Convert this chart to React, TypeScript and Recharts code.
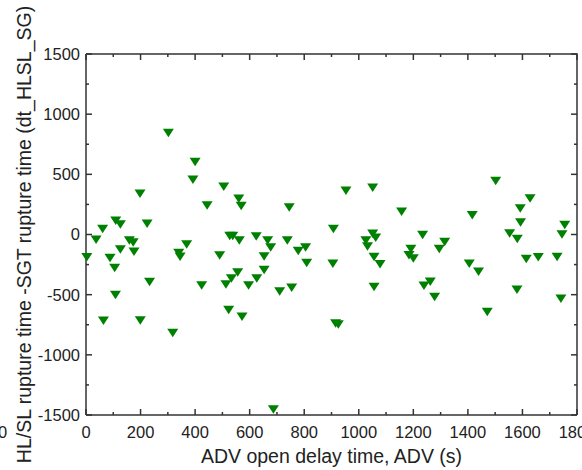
import React from 'react';
import { ScatterChart, Scatter, XAxis, YAxis } from 'recharts';

// ADV open delay time (s)
const advTime = [
  302, 400, 392, 198, 505, 560, 569, 444, 109, 126, 61, 224, 37, 3, 88, 105, 126, 159, 173, 176,
  369, 340, 345, 490, 527, 538, 562, 233, 108, 424, 556, 533, 513, 596, 64, 199, 318, 523, 572, 687,
  953, 1051, 745, 1157, 907, 624, 666, 677, 738, 778, 805, 809, 653, 1026, 1051, 1062, 1032, 1056, 1078, 905,
  653, 626, 710, 754, 1056, 915, 925, 1502, 1628, 1592, 1416, 1593, 1755, 1745, 1553, 1581, 1234, 1315, 1295, 1191,
  1184, 1200, 1614, 1658, 1727, 1405, 1439, 1262, 1239, 1278, 1580, 1741, 1471,
];

// HL/SL rupture time - SGT rupture time
const ruptureDiff = [
  845, 604, 457, 340, 399, 299, 238, 243, 116, 86, 47, 91, -42, -188, -194, -277, -122, -47, -64, -141,
  -80, -152, -183, -172, -11, -11, -47, -393, -501, -421, -313, -363, -413, -421, -714, -712, -817, -626, -681, -1453,
  365, 390, 227, 191, 47, -14, -47, -105, -47, -135, -105, -235, -180, -47, 8, -25, -97, -185, -246, -241,
  -293, -363, -471, -440, -434, -737, -745, 446, 302, 219, 163, 102, 80, 3, 11, -36, -2, -61, -119, -119,
  -170, -197, -202, -188, -185, -241, -307, -390, -424, -518, -457, -532, -642,
];

const xDomain = [0, 1800];
const yDomain = [-1500, 1500];
const xTicks = [0, 100, 200, 300, 400, 500, 600, 700, 800, 900, 1000, 1100, 1200, 1300, 1400, 1500, 1600, 1700, 1800];
const yTicks = [-1500, -1250, -1000, -750, -500, -250, 0, 250, 500, 750, 1000, 1250, 1500];

const points = advTime.map((x, i) => ({ x, y: ruptureDiff[i] }));

// top and right sides of the box (Origin style frame)
const frame = [
  { x: xDomain[0], y: yDomain[1] },
  { x: xDomain[1], y: yDomain[1] },
  { x: xDomain[1], y: yDomain[0] },
];
const topTicks = xTicks.map((v) => ({ x: v, y: yDomain[1] }));
const rightTicks = yTicks.map((v) => ({ x: xDomain[1], y: v }));

const FONT = '"Liberation Sans", Arial, sans-serif';
const AXIS = '#333';
const TXT = '#222';

const BottomTick = (props: any) => {
  const { x, y, payload } = props;
  const major = payload.value % 200 === 0;
  return (
    <g>
      <line x1={x} y1={y} x2={x} y2={y - (major ? 6 : 3)} stroke={AXIS} strokeWidth={1.5} />
      {major && (
        <text x={x} y={y + 23} textAnchor="middle" fontSize={16.5} fontFamily={FONT} fill={TXT}>
          {payload.value}
        </text>
      )}
    </g>
  );
};

const LeftTick = (props: any) => {
  const { x, y, payload } = props;
  const major = payload.value % 500 === 0;
  return (
    <g>
      <line x1={x} y1={y} x2={x + (major ? 6 : 3)} y2={y} stroke={AXIS} strokeWidth={1.5} />
      {major && (
        <text x={x - 6} y={y} dy="0.36em" textAnchor="end" fontSize={16.5} fontFamily={FONT} fill={TXT}>
          {payload.value}
        </text>
      )}
    </g>
  );
};

const TopTickMark = (props: any) => {
  const { cx, cy, payload } = props;
  const len = payload.x % 200 === 0 ? 6 : 3;
  return <line x1={cx} y1={cy} x2={cx} y2={cy + len} stroke={AXIS} strokeWidth={1.5} />;
};

const RightTickMark = (props: any) => {
  const { cx, cy, payload } = props;
  const len = payload.y % 500 === 0 ? 6 : 3;
  return <line x1={cx} y1={cy} x2={cx - len} y2={cy} stroke={AXIS} strokeWidth={1.5} />;
};

const NoMarker = () => <g />;

const DownTriangle = (props: any) => {
  const { cx, cy } = props;
  return (
    <polygon
      points={`${cx - 5.5},${cy - 4} ${cx + 5.5},${cy - 4} ${cx},${cy + 4.5}`}
      fill="#008000"
    />
  );
};

const XTitle = (props: any) => {
  const { viewBox } = props;
  return (
    <text x={viewBox.x + viewBox.width / 2} y={viewBox.y + 48} textAnchor="middle" fontSize={19.5} fontFamily={FONT} fill={TXT}>
      ADV open delay time, ADV (s)
    </text>
  );
};

const YTitle = (props: any) => {
  const { viewBox } = props;
  const cx = 31;
  const cy = viewBox.y + viewBox.height / 2;
  return (
    <g>
      <text x={cx} y={cy} transform={`rotate(-90, ${cx}, ${cy})`} textAnchor="middle" fontSize={19.5} fontFamily={FONT} fill={TXT}>
        HL/SL rupture time -SGT rupture time (dt_HLSL_SG)
      </text>
      {/* stray tick label left over from the neighbouring panel */}
      <text x={-2} y={viewBox.y + viewBox.height + 23} fontSize={16.5} fontFamily={FONT} fill={TXT}>
        0
      </text>
    </g>
  );
};

const App = () => {
  return (
    <div style={{ position: 'absolute', left: 0, top: 0 }}>
      <ScatterChart width={582} height={470} margin={{ top: 54, right: 5, bottom: 0, left: 0 }}>
        <XAxis
          xAxisId="b"
          type="number"
          dataKey="x"
          domain={xDomain}
          ticks={xTicks}
          interval={0}
          height={55}
          tickSize={0}
          tickMargin={0}
          tickLine={false}
          tick={<BottomTick />}
          axisLine={{ stroke: AXIS, strokeWidth: 1.5 }}
          label={<XTitle />}
        />
        <YAxis
          yAxisId="l"
          type="number"
          dataKey="y"
          domain={yDomain}
          ticks={yTicks}
          interval={0}
          width={86}
          tickSize={0}
          tickMargin={0}
          tickLine={false}
          tick={<LeftTick />}
          axisLine={{ stroke: AXIS, strokeWidth: 1.5 }}
          label={<YTitle />}
        />
        <Scatter
          xAxisId="b"
          yAxisId="l"
          data={frame}
          line={{ stroke: AXIS, strokeWidth: 1.5 }}
          shape={<NoMarker />}
          isAnimationActive={false}
        />
        <Scatter xAxisId="b" yAxisId="l" data={topTicks} shape={<TopTickMark />} isAnimationActive={false} />
        <Scatter xAxisId="b" yAxisId="l" data={rightTicks} shape={<RightTickMark />} isAnimationActive={false} />
        <Scatter xAxisId="b" yAxisId="l" data={points} shape={<DownTriangle />} isAnimationActive={false} />
      </ScatterChart>
    </div>
  );
};

export default App;
